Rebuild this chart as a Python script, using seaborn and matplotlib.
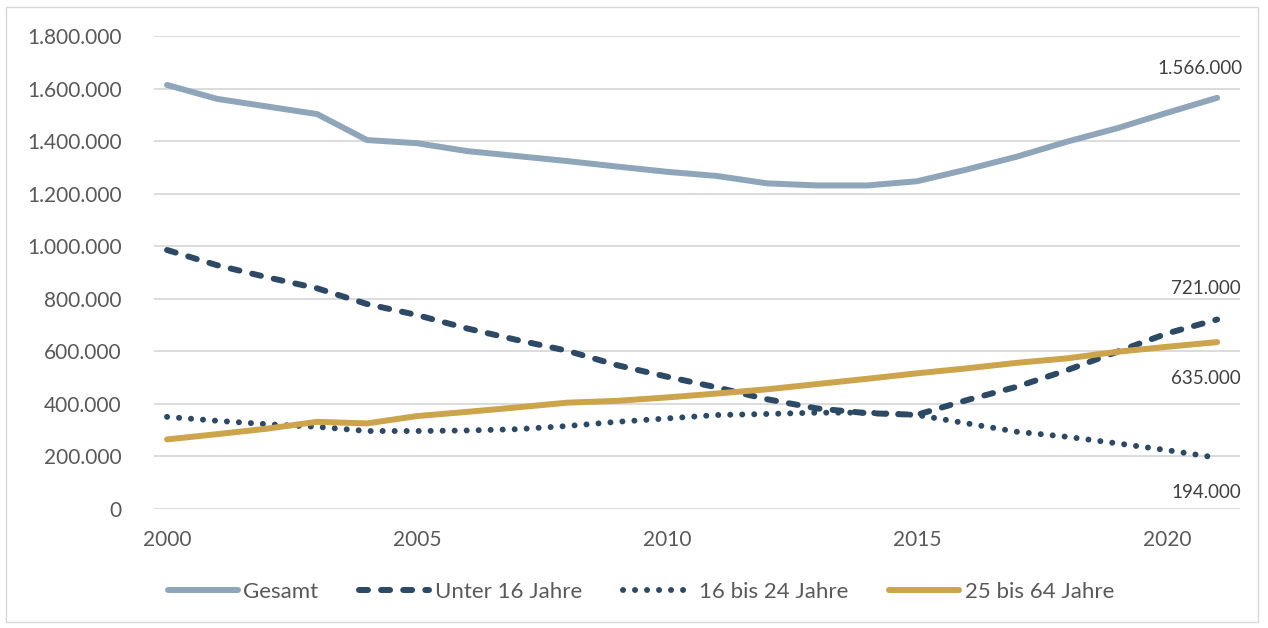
import numpy as np
import pandas as pd
import seaborn as sns
import matplotlib

matplotlib.use('Agg')
import matplotlib.pyplot as plt
from matplotlib.ticker import FuncFormatter, MultipleLocator
from matplotlib.patches import Rectangle

# Daten (Werte in Tausend)
years = list(range(2000, 2022))
gesamt = [1615, 1562, 1533, 1504, 1405, 1393, 1363, 1344, 1325, 1304, 1284,
          1268, 1240, 1232, 1232, 1248, 1293, 1342, 1399, 1450, 1509, 1566]
unter_16 = [986, 928, 882, 840, 780, 738, 687, 643, 602, 547, 503,
            462, 417, 382, 364, 358, 414, 465, 528, 598, 668, 721]
jahre_16_24 = [350, 335, 322, 312, 296, 296, 298, 303, 315, 331, 344,
               357, 361, 366, 366, 357, 325, 293, 274, 249, 223, 194]
jahre_25_64 = [264, 284, 305, 331, 325, 353, 369, 386, 404, 411, 424,
               439, 455, 475, 495, 516, 535, 556, 573, 598, 617, 635]
labels = ["Gesamt", "Unter 16 Jahre", "16 bis 24 Jahre", "25 bis 64 Jahre"]

sns.set_style("white")
plt.rcParams['font.family'] = ['Lato', 'DejaVu Sans']

fig = plt.figure(figsize=(12.68, 6.28), dpi=100)
ax = fig.add_axes([0.1211, 0.19, 0.978 - 0.1211, 0.942 - 0.19])

farben = ["#8FA5B9", "#2C4966", "#2C4966", "#CCA44C"]
stile = ["-", (0, (1.5, 2.2)), (0, (0.01, 2.0)), "-"]
werte = [gesamt, unter_16, jahre_16_24, jahre_25_64]

for name, vals, col, ls in zip(labels, werte, farben, stile):
    sns.lineplot(x=years, y=np.array(vals) * 1000, color=col, lw=4.3, ax=ax, label=name)
    ln = ax.lines[-1]
    ln.set_linestyle(ls)
    ln.set_dash_capstyle('round')
    ln.set_solid_capstyle('round')

ax.set_xlim(1999.73, 2021.46)
ax.set_ylim(0, 1800000)
ax.yaxis.set_major_locator(MultipleLocator(200000))
ax.xaxis.set_major_locator(MultipleLocator(5))
ax.yaxis.set_major_formatter(FuncFormatter(lambda v, p: f"{v:,.0f}".replace(",", ".")))
ax.grid(axis='y', color='#D9D9D9', lw=1.3)
ax.set_axisbelow(True)
for s in ax.spines.values():
    s.set_visible(False)
ax.tick_params(axis='y', length=0, pad=23, labelsize=15, labelcolor='#595959')
ax.tick_params(axis='x', length=0, pad=15, labelsize=15, labelcolor='#595959')
ax.set_xlabel("")
ax.set_ylabel("")

# Datenbeschriftungen am Ende
ende = [(gesamt[-1], (-12, 15), 'bottom'), (unter_16[-1], (-8, 16), 'bottom'),
        (jahre_25_64[-1], (-8, -20), 'top'), (jahre_16_24[-1], (-8, -19), 'top')]
for val, off, va in ende:
    ax.annotate(f"{val * 1000:,.0f}".replace(",", "."), (years[-1], val * 1000),
                xytext=off, textcoords='offset points', ha='center', va=va,
                fontsize=13.5, color='#404040')

ax.get_legend().remove()
handles = ax.lines[:4]
fig.legend(handles, labels, loc='center', bbox_to_anchor=(0.5055, 0.057), ncol=4,
           frameon=False, fontsize=16, labelcolor='#595959', handlelength=3.15,
           handletextpad=0.25, columnspacing=1.85)

fig.patches.append(Rectangle((6 / 1268, 1 - 622 / 628), 1252 / 1268, 615 / 628,
                             transform=fig.transFigure, fill=False,
                             edgecolor='#D9D9D9', lw=1))

fig.savefig("out.png", dpi=100)
